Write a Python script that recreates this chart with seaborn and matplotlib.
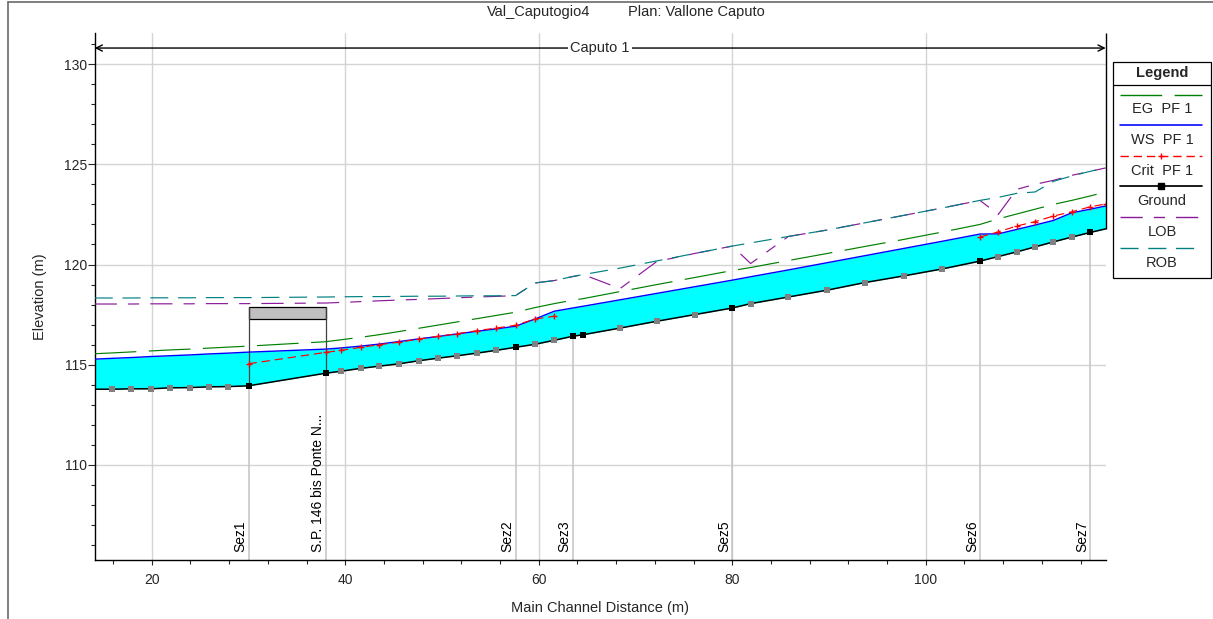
import numpy as np
import pandas as pd
import matplotlib
matplotlib.use("Agg")
import matplotlib.pyplot as plt
import seaborn as sns
from matplotlib.patches import Rectangle
from matplotlib.lines import Line2D
from matplotlib.ticker import MultipleLocator

# --- profile data ---
stations = [14.1, 15.9, 17.9, 19.9, 21.9, 23.9, 25.9, 27.9, 30.0, 38.0,
            39.6, 41.6, 43.5, 45.6, 47.6, 49.6, 51.6, 53.6, 55.6, 57.6,
            59.6, 61.6, 63.5, 64.6, 68.4, 72.2, 76.1, 80.0, 81.9, 85.8,
            89.8, 93.7, 97.7, 101.7, 105.6, 107.5, 109.4, 111.3, 113.2, 115.1,
            117.0, 118.6]
ground = [113.78, 113.78, 113.80, 113.80, 113.85, 113.86, 113.90, 113.91, 113.95, 114.58,
          114.68, 114.82, 114.93, 115.05, 115.20, 115.33, 115.45, 115.58, 115.72, 115.87,
          116.02, 116.22, 116.42, 116.50, 116.83, 117.17, 117.50, 117.83, 118.05, 118.38,
          118.72, 119.10, 119.43, 119.78, 120.17, 120.40, 120.63, 120.88, 121.13, 121.37,
          121.60, 121.78]
ws = [115.28, 115.32, 115.36, 115.41, 115.45, 115.49, 115.54, 115.58, 115.63, 115.78,
      115.84, 115.93, 116.03, 116.16, 116.29, 116.41, 116.54, 116.67, 116.79, 116.92,
      117.28, 117.67, 117.83, 117.92, 118.24, 118.56, 118.89, 119.22, 119.39, 119.73,
      120.09, 120.44, 120.80, 121.16, 121.52, 121.53, 121.75, 121.97, 122.20, 122.58,
      122.76, 122.92]
eg = [115.55, 115.59, 115.64, 115.69, 115.74, 115.78, 115.83, 115.88, 115.93, 116.15,
      116.25, 116.37, 116.50, 116.66, 116.82, 116.98, 117.14, 117.30, 117.46, 117.62,
      117.85, 118.05, 118.22, 118.30, 118.65, 119.00, 119.35, 119.70, 119.85, 120.20,
      120.55, 120.90, 121.25, 121.62, 122.00, 122.28, 122.52, 122.76, 123.00, 123.20,
      123.42, 123.62]
nan = np.nan
crit = [nan, nan, nan, nan, nan, nan, nan, nan, 115.05, 115.62,
        115.72, 115.87, 116.00, 116.13, 116.28, 116.42, 116.55, 116.70, 116.83, 116.97,
        117.28, 117.42, nan, nan, nan, nan, nan, nan, nan, nan,
        nan, nan, nan, nan, 121.37, 121.63, 121.92, 122.14, 122.42, 122.63,
        122.88, 123.02]
lob = [118.03, 118.03, 118.03, 118.04, 118.04, 118.04, 118.05, 118.05, 118.05, 118.08,
       118.11, 118.15, 118.19, 118.23, 118.26, 118.30, 118.34, 118.38, 118.41, 118.45,
       119.08, 119.20, 119.40, 119.50, 118.80, 120.15, 120.55, 120.92, 120.05, 121.40,
       121.72, 122.08, 122.45, 122.82, 123.20, 122.50, 123.75, 124.00, 124.20, 124.45,
       124.65, 124.82]
rob = [118.33, 118.33, 118.33, 118.34, 118.34, 118.34, 118.35, 118.35, 118.35, 118.38,
       118.39, 118.40, 118.40, 118.41, 118.42, 118.42, 118.43, 118.44, 118.44, 118.45,
       119.08, 119.20, 119.40, 119.50, 119.82, 120.18, 120.55, 120.92, 121.08, 121.40,
       121.72, 122.08, 122.45, 122.82, 123.20, 123.35, 123.55, 123.62, 124.15, 124.42,
       124.65, 124.82]

real_sections = [30.0, 38.0, 57.6, 63.5, 64.6, 80.0, 105.6, 117.0]
section_names = ["Sez1", "S.P. 146 bis Ponte N...", "Sez2", "Sez3", "", "Sez5", "Sez6", "Sez7"]
reach_ends = [14.1, 118.6]
bridge_span = [30.0, 38.0]
bridge_deck = [117.30, 117.88]

df = pd.DataFrame({"station": stations, "ground": ground, "ws": ws, "eg": eg,
                   "crit": crit, "lob": lob, "rob": rob})
df["kind"] = ["end" if s in reach_ends else ("real" if s in real_sections else "interp")
              for s in df["station"]]

W, H = 1213, 619
sns.set_theme(style="white")
plt.rcParams["font.family"] = ["Liberation Sans", "DejaVu Sans"]
plt.rcParams["lines.scale_dashes"] = False

fig = plt.figure(figsize=(W / 100, H / 100), dpi=100)
ax = fig.add_axes([94.7 / W, 1 - 560 / H, (1105.7 - 94.7) / W, (560 - 33) / H])
y_lo, y_hi = 105.26, 131.55
ax.set_xlim(reach_ends[0], reach_ends[1])
ax.set_ylim(y_lo, y_hi)

styles = {
    "eg": dict(color="#008000", lw=0.85, linestyle=(0, (30, 9))),
    "ws": dict(color="#0000ff", lw=1.0, linestyle="-"),
    "crit": dict(color="#ff0000", lw=0.85, linestyle=(0, (6, 3.5))),
    "ground": dict(color="black", lw=1.1, linestyle="-"),
    "lob": dict(color="#8a1a9a", lw=0.85, linestyle=(0, (16, 8, 8, 8))),
    "rob": dict(color="#008080", lw=0.85, linestyle=(0, (13, 7))),
}

# grid + axes look
ax.set_axisbelow(True)
ax.grid(True, which="major", color="#d4d4d4", lw=1.0)
ax.xaxis.set_major_locator(MultipleLocator(20))
ax.xaxis.set_minor_locator(MultipleLocator(4))
ax.yaxis.set_major_locator(MultipleLocator(5))
ax.yaxis.set_minor_locator(MultipleLocator(1))
ax.tick_params(axis="x", which="major", direction="out", length=3.6, width=0.8,
               pad=6, labelsize=10, bottom=True)
ax.tick_params(axis="x", which="minor", direction="out", length=2.9, width=0.8, bottom=True)
ax.tick_params(axis="y", which="major", direction="out", length=5.2, width=0.8,
               pad=0.5, labelsize=10, left=True)
ax.tick_params(axis="y", which="minor", direction="out", length=2.9, width=0.8, left=True)
for side in ["top", "right"]:
    ax.spines[side].set_visible(False)
for side in ["left", "bottom"]:
    ax.spines[side].set_color("black")
    ax.spines[side].set_linewidth(1.0)

# section lines below the ground
real = df[df["kind"] == "real"]
for (s, g), name in zip(real[["station", "ground"]].values, section_names):
    if not name:
        continue
    ax.vlines(s, y_lo, g, color="#c4c4c4", lw=1.1, zorder=1.5)
    ax.text(s - 0.1, 105.66, name, rotation=90, ha="right", va="bottom",
            fontsize=10, color="black", zorder=3)

# water between ground and WS
ax.fill_between(df["station"], df["ground"], df["ws"], color="#00ffff", lw=0, zorder=2)

# bridge deck and abutments
ax.add_patch(Rectangle((bridge_span[0], bridge_deck[0]), bridge_span[1] - bridge_span[0],
                       bridge_deck[1] - bridge_deck[0], facecolor="#c0c0c0",
                       edgecolor="black", lw=0.9, zorder=4))
for s in bridge_span:
    g = df.loc[df["station"] == s, "ground"].iloc[0]
    ax.vlines(s, g, bridge_deck[1], color="#404040", lw=0.9, zorder=4)

# profile lines
for col in ["eg", "ws", "ground", "lob", "rob"]:
    sns.lineplot(data=df, x="station", y=col, ax=ax, errorbar=None, zorder=5, **styles[col])

crit_run = df["crit"].isna().cumsum()
for _, seg in df[df["crit"].notna()].groupby(crit_run[df["crit"].notna()]):
    sns.lineplot(data=seg, x="station", y="crit", ax=ax, errorbar=None, zorder=6, **styles["crit"])
sns.scatterplot(data=df[df["crit"].notna()], x="station", y="crit", ax=ax, marker="+",
                color="#ff0000", s=22, linewidth=1.0, zorder=7)

sns.scatterplot(data=df[df["kind"] == "interp"], x="station", y="ground", ax=ax, marker="s",
                color="#808080", s=18, linewidth=0, zorder=7)
sns.scatterplot(data=df[df["kind"] == "real"], x="station", y="ground", ax=ax, marker="s",
                color="black", s=18, linewidth=0, zorder=7)

# reach arrow and reach end line
ax.annotate("", xy=(reach_ends[0], 130.8), xytext=(reach_ends[1], 130.8),
            arrowprops=dict(arrowstyle="<->", color="black", lw=1.0,
                            shrinkA=0, shrinkB=0, mutation_scale=11),
            annotation_clip=False, zorder=8)
ax.text(sum(reach_ends) / 2, 130.8, "Caputo 1", ha="center", va="center", fontsize=10.5,
        bbox=dict(facecolor="white", edgecolor="none", pad=1.5), zorder=9)
ax.vlines(reach_ends[1], df["ground"].iloc[-1], y_hi, color="black", lw=1.0,
          clip_on=False, zorder=8)

ax.set_xlabel("Main Channel Distance (m)", fontsize=10.5, labelpad=10)
ax.set_ylabel("Elevation (m)", fontsize=10.5, labelpad=12)

# title
fig.text(590 / W, 1 - 12 / H, "Val_Caputogio4", ha="right", va="center", fontsize=10.5)
fig.text(628 / W, 1 - 12 / H, "Plan: Vallone Caputo", ha="left", va="center", fontsize=10.5)

# outer frame
fig.add_artist(Line2D([8 / W, 8 / W], [0, 1 - 2 / H], color="#6a6a6a", lw=1.2))
fig.add_artist(Line2D([8 / W, 1], [1 - 2 / H, 1 - 2 / H], color="#6a6a6a", lw=1.2))

# legend, HEC-RAS style (sample above label)
lx0, lx1 = 1113 / W, 1211 / W
ltop, lsep, lbot = 62, 85, 278
fig.add_artist(Rectangle((lx0, 1 - lbot / H), lx1 - lx0, (lbot - ltop) / H,
                         transform=fig.transFigure, fill=False, edgecolor="black", lw=0.9))
fig.add_artist(Line2D([lx0, lx1], [1 - lsep / H] * 2, color="black", lw=0.9))
fig.text(1162 / W, 1 - 73 / H, "Legend", ha="center", va="center", fontsize=10.5,
         fontweight="bold")
legend_items = [("eg", "EG  PF 1", None), ("ws", "WS  PF 1", None), ("crit", "Crit  PF 1", "+"),
                ("ground", "Ground", "s"), ("lob", "LOB", None), ("rob", "ROB", None)]
for i, (col, label, mk) in enumerate(legend_items):
    yl = 1 - (94.5 + 30.6 * i) / H
    yt = 1 - (109 + 30.8 * i) / H
    st = styles[col]
    fig.add_artist(Line2D([1120 / W, 1202 / W], [yl, yl], color=st["color"],
                          lw=st["lw"] + 0.15, linestyle=st["linestyle"]))
    if mk:
        fig.add_artist(Line2D([1161 / W], [yl], color=st["color"], marker=mk, markersize=5,
                              markeredgewidth=1.0, linestyle="none"))
    fig.text(1162 / W, yt, label, ha="center", va="center", fontsize=10.5)

plt.savefig("out.png", dpi=100)
